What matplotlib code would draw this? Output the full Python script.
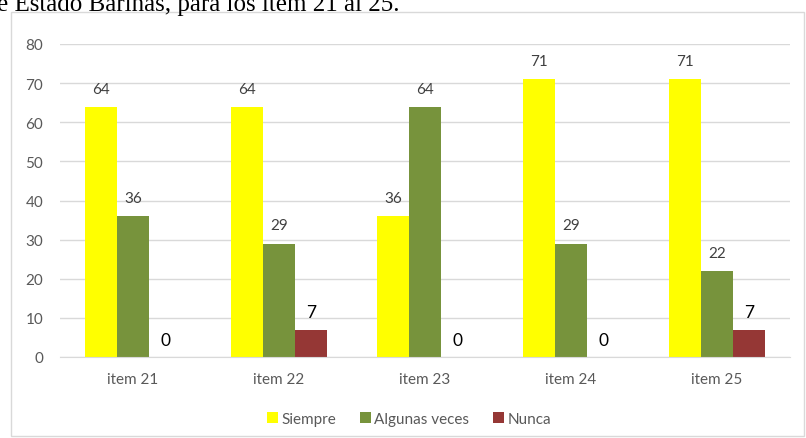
import matplotlib.pyplot as plt
import numpy as np
from matplotlib.patches import Rectangle

items = ['item 21', 'item 22', 'item 23', 'item 24', 'item 25']
siempre = [64, 64, 36, 71, 71]
algunas = [36, 29, 64, 29, 22]
nunca = [0, 7, 0, 0, 7]
series_names = ['Siempre', 'Algunas veces', 'Nunca']
colores = ['#FFFF00', '#77933C', '#953735']

plt.rcParams['font.family'] = ['Lato', 'DejaVu Sans']

fig = plt.figure(figsize=(8.06, 4.39), dpi=100)
W, H = 806, 439

# marco del gráfico
fig.patches.append(Rectangle((11 / W, 1 - 437 / H), 793 / W, 424 / H,
                             transform=fig.transFigure, fill=False,
                             edgecolor='#D9D9D9', linewidth=1))

# texto del documento que queda recortado arriba
fig.text(-3 / W, 1 - 11 / H, 'e Estado Barinas, para los ítem 21 al 25.',
         family='Liberation Serif', fontsize=18, color='black', va='baseline')

ax = fig.add_axes([60 / W, 1 - 358 / H, 730 / W, 313 / H])
x = np.arange(len(items))
w = 0.22
datos = [siempre, algunas, nunca]
for i, (vals, nombre, c) in enumerate(zip(datos, series_names, colores)):
    pos = x + (i - 1) * w
    ax.bar(pos, vals, w, color=c, label=nombre, zorder=2)
    for p, v in zip(pos, vals):
        if i == 2:
            ax.annotate(str(v), (p, v), xytext=(0, 12.5), textcoords='offset points',
                        ha='center', va='center', fontsize=12.5, color='black')
        else:
            ax.annotate(str(v), (p, v), xytext=(0, 13), textcoords='offset points',
                        ha='center', va='center', fontsize=11, color='#404040')

ax.set_xlim(-0.5, len(items) - 0.5)
ax.set_ylim(0, 80)
ax.set_yticks(range(0, 81, 10))
ax.set_xticks(x)
ax.set_xticklabels(items)
ax.grid(axis='y', color='#D9D9D9', linewidth=1, zorder=0)
ax.set_axisbelow(True)
for s in ['top', 'right', 'left']:
    ax.spines[s].set_visible(False)
ax.spines['bottom'].set_color('#D9D9D9')
ax.tick_params(axis='both', length=0, labelsize=11, colors='#595959')
ax.tick_params(axis='x', pad=11)
ax.tick_params(axis='y', pad=12)

fig.legend(loc='center', bbox_to_anchor=(409 / W, 1 - 420 / H), ncol=3,
           frameon=False, fontsize=11, handlelength=0.7, handleheight=0.7,
           handletextpad=0.2, columnspacing=1.6, labelcolor='#595959')

fig.savefig('out.png', dpi=100)
